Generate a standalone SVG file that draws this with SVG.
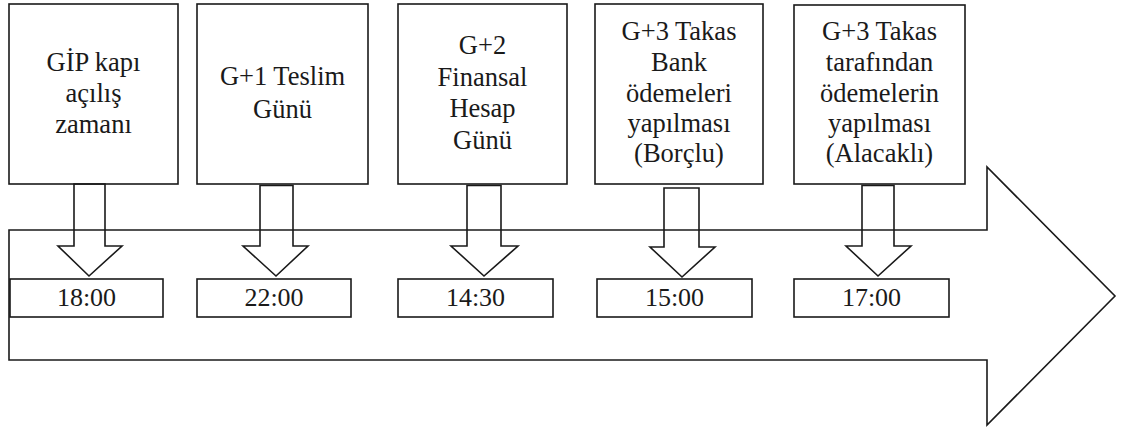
<svg xmlns="http://www.w3.org/2000/svg" width="1122" height="429" viewBox="0 0 1122 429">
  <style>
    .box { fill: #ffffff; stroke: #1a1a1a; stroke-width: 1.6; }
    .line { fill: none; stroke: #1a1a1a; stroke-width: 1.6; stroke-linejoin: miter; }
    text { font-family: 'Liberation Serif', 'Times New Roman', serif; font-size: 26.5px; fill: #1a1a1a; text-anchor: middle; }
    .time { font-size: 26px; }
  </style>
  <rect width="1122" height="429" fill="#ffffff"/>

  <!-- timeline: large block arrow pointing right -->
  <g id="timeline">
    <path class="line" d="M9,230 H987 V167 L1115,296 L987,425 V360 H9 Z"/>
  </g>

  <!-- event boxes -->
  <g id="event-gip">
    <rect class="box" x="9" y="4" width="169" height="180"/>
    <text x="93.5" y="70.5">GİP kapı</text>
    <text x="93.5" y="101.5">açılış</text>
    <text x="93.5" y="132.5">zamanı</text>
  </g>
  <g id="event-g1">
    <rect class="box" x="197" y="4" width="171" height="180"/>
    <text x="282.5" y="85">G+1 Teslim</text>
    <text x="282.5" y="118">Günü</text>
  </g>
  <g id="event-g2">
    <rect class="box" x="398" y="4" width="169" height="180"/>
    <text x="482.5" y="54">G+2</text>
    <text x="482.5" y="86">Finansal</text>
    <text x="482.5" y="117">Hesap</text>
    <text x="482.5" y="149">Günü</text>
  </g>
  <g id="event-g3-borclu">
    <rect class="box" x="595" y="4" width="168" height="180"/>
    <text x="679" y="39.5">G+3 Takas</text>
    <text x="679" y="71">Bank</text>
    <text x="679" y="101.5">ödemeleri</text>
    <text x="679" y="131.5">yapılması</text>
    <text x="679" y="162">(Borçlu)</text>
  </g>
  <g id="event-g3-alacakli">
    <rect class="box" x="794" y="5" width="171" height="179"/>
    <text x="879.5" y="39.5">G+3 Takas</text>
    <text x="879.5" y="71">tarafından</text>
    <text x="879.5" y="101.5">ödemelerin</text>
    <text x="879.5" y="131.5">yapılması</text>
    <text x="879.5" y="162">(Alacaklı)</text>
  </g>

  <!-- time boxes -->
  <g id="time-1800">
    <rect class="box" x="10" y="279" width="153" height="38"/>
    <text class="time" x="86.5" y="306">18:00</text>
  </g>
  <g id="time-2200">
    <rect class="box" x="197" y="279" width="154" height="38"/>
    <text class="time" x="274" y="306">22:00</text>
  </g>
  <g id="time-1430">
    <rect class="box" x="398" y="279" width="155" height="38"/>
    <text class="time" x="475.5" y="306">14:30</text>
  </g>
  <g id="time-1500">
    <rect class="box" x="597" y="279" width="155" height="38"/>
    <text class="time" x="674.5" y="306">15:00</text>
  </g>
  <g id="time-1700">
    <rect class="box" x="794" y="279" width="155" height="38"/>
    <text class="time" x="871.5" y="306">17:00</text>
  </g>

  <!-- connectors: hollow down arrows from event to time -->
  <g id="connectors">
    <path class="line" d="M74,184 V246 H58 L89,276 L122,246 H105 V184 Z"/>
    <path class="line" d="M260,185.5 V246 H243 L276,276 L308,246 H293 V185.5 Z"/>
    <path class="line" d="M467,185.5 V246 H451 L484,276 L518,246 H501 V185.5 Z"/>
    <path class="line" d="M664,188 V247 H650 L682,277 L715,247 H699 V188 Z"/>
    <path class="line" d="M862,185.5 V246 H846 L878,276 L911,246 H894 V185.5 Z"/>
  </g>
</svg>
